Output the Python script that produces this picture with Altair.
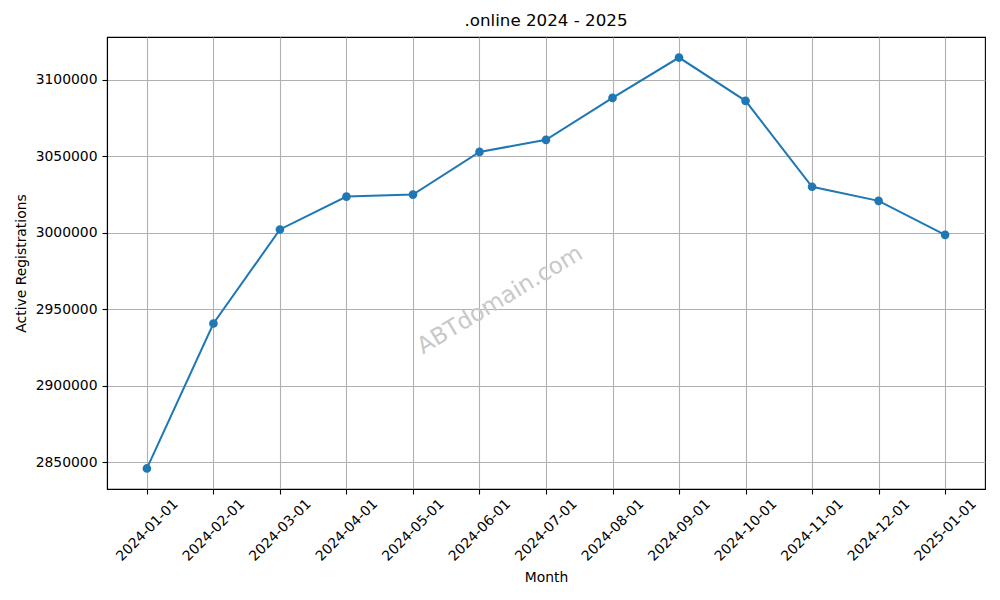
import altair as alt
import pandas as pd

months = ["2024-01-01", "2024-02-01", "2024-03-01", "2024-04-01", "2024-05-01",
          "2024-06-01", "2024-07-01", "2024-08-01", "2024-09-01", "2024-10-01",
          "2024-11-01", "2024-12-01", "2025-01-01"]
registrations = [2845950, 2940700, 3002200, 3023700, 3025000, 3052900, 3060800,
                 3088200, 3114600, 3086300, 3030100, 3020900, 2998700]
y_ticks = [2850000, 2900000, 2950000, 3000000, 3050000, 3100000]

df = pd.DataFrame({"Month": months, "Active Registrations": registrations})

lo, hi = min(registrations), max(registrations)
m = (hi - lo) * 0.05
ydom = [lo - m, hi + m]

W, H = 878, 452
BLUE = "#1f77b4"

x_enc = alt.X("Month:O", sort=months,
              scale=alt.Scale(type="point", padding=0.6),
              axis=alt.Axis(labelAngle=-45, labelAlign="center", labelBaseline="middle",
                            labelPadding=36, tickSize=5, title="Month", grid=True,
                            titleX=W / 2, titleY=88, titleBaseline="middle",
                            titleAlign="center"))
y_enc = alt.Y("Active Registrations:Q",
              scale=alt.Scale(domain=ydom, nice=False, zero=False),
              axis=alt.Axis(values=y_ticks, format="d", tickSize=5, labelPadding=5, grid=True,
                            title="Active Registrations", titleX=-86, titleY=H / 2,
                            titleAngle=270, titleBaseline="middle", titleAlign="center"))

line = alt.Chart(df).mark_line(color=BLUE, strokeWidth=2).encode(x=x_enc, y=y_enc)
points = alt.Chart(df).mark_point(filled=True, color=BLUE, size=75, opacity=1).encode(x=x_enc, y=y_enc)

wm = alt.Chart(pd.DataFrame({"t": ["ABTdomain.com"]})).mark_text(
    fontSize=23, color="#c8c8c8", angle=329, align="center", baseline="middle",
    font="DejaVu Sans"
).encode(text="t:N", x=alt.value(393), y=alt.value(263))

chart = alt.layer(line, points, wm).properties(
    width=W, height=H,
    background="white",
    title=alt.Title(".online 2024 - 2025", fontSize=16.7, fontWeight="normal",
                    font="DejaVu Sans", color="black", offset=7),
    autosize=alt.AutoSizeParams(type="none"),
    padding={"left": 99, "top": 29, "right": 7, "bottom": 103},
).configure_view(stroke="black", strokeWidth=1.1).configure_axis(
    grid=True, gridColor="#b0b0b0", gridWidth=1.1, gridOpacity=1,
    domainColor="black", domainWidth=1.1, tickColor="black", tickWidth=1.1,
    labelFont="DejaVu Sans", labelFontSize=13.9, labelColor="black",
    titleFont="DejaVu Sans", titleFontSize=13.9, titleColor="black", titleFontWeight="normal",
)

chart.save("out.html", embed_options={"renderer": "svg", "actions": False})
